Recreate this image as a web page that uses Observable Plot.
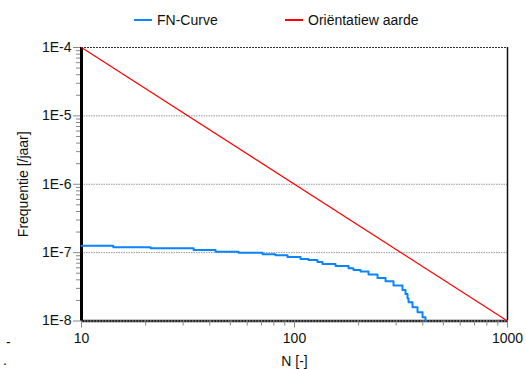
<!DOCTYPE html>
<html>
<head>
<meta charset="utf-8">
<script src="https://cdn.jsdelivr.net/npm/d3@7"></script>
<script src="https://cdn.jsdelivr.net/npm/@observablehq/plot@0.6"></script>
<style>
  html, body { margin: 0; padding: 0; background: #fff; }
  #wrap { position: relative; width: 526px; height: 369px; font-family: "Liberation Sans", Arial, sans-serif; overflow: hidden; }
  #legend { position: relative; height: 30px; width: 526px; font-size: 14px; color: #111; }
  .item { position: absolute; top: 12px; display: flex; align-items: center; height: 16px; }
  .swatch { display: inline-block; width: 18px; height: 2px; margin-right: 5px; }
  #chart svg { display: block; }
  .stray { position: absolute; font-size: 14px; color: #111; }
</style>
</head>
<body>
<div id="wrap">
  <div id="legend">
    <div class="item" style="left:134px"><span class="swatch" style="background:#0a84ff"></span><span>FN-Curve</span></div>
    <div class="item" style="left:285px"><span class="swatch" style="background:#ff0000"></span><span>Oriëntatiew aarde</span></div>
  </div>
  <div id="chart"></div>
  <span class="stray" style="left:6px; top:334px;">-</span>
  <span class="stray" style="left:3px; top:352px;">.</span>
</div>
<script>
// FN-curve (step function): number of fatalities N and frequency [/jaar]
const fnN = [10, 14.1, 21.1, 33.6, 42.6, 54.6, 70.8, 81.4, 92.7, 106.7, 116.3, 128.2, 135.4, 155.8, 179.3, 189.2, 204.1, 222.6, 245.3, 267.5, 291.6, 321.4, 332.0, 339.3, 343.0, 358.1, 378.1, 399.0, 412.1];
const fnF = [1.265e-7, 1.195e-7, 1.155e-7, 1.095e-7, 1.034e-7, 1.0e-7, 9.45e-8, 9.13e-8, 8.6e-8, 8.04e-8, 7.77e-8, 7.31e-8, 6.84e-8, 6.39e-8, 5.9e-8, 5.55e-8, 5.28e-8, 4.77e-8, 4.27e-8, 3.81e-8, 3.30e-8, 2.85e-8, 2.49e-8, 2.13e-8, 1.88e-8, 1.59e-8, 1.34e-8, 1.13e-8, 1.0e-8];

// Orientation value line
const refN = [10, 1000];
const refF = [1e-4, 1e-8];

// Axis ticks and labels
const xTicks = [10, 100, 1000];
const xTickLabels = ["10", "100", "1000"];
const xMinor = [20, 30, 40, 50, 60, 70, 80, 90, 200, 300, 400, 500, 600, 700, 800, 900];
const yTicks = [1e-4, 1e-5, 1e-6, 1e-7, 1e-8];
const yTickLabels = ["1E-4", "1E-5", "1E-6", "1E-7", "1E-8"];
const yGrid = [1e-5, 1e-6, 1e-7];
const yMinorMant = [2, 3, 4, 5, 6, 7, 8, 9];
const yDecades = [1e-8, 1e-7, 1e-6, 1e-5];

const yMinor = yDecades.flatMap(d => yMinorMant.map(m => m * d));
const fnData = fnN.map((n, i) => ({n, f: fnF[i]}));
const refData = refN.map((n, i) => ({n, f: refF[i]}));

const chart = Plot.plot({
  width: 526,
  height: 339,
  marginLeft: 81,
  marginRight: 19,
  marginTop: 17,
  marginBottom: 48.5,
  style: {fontFamily: "'Liberation Sans', Arial, sans-serif", fontSize: "14px", color: "#111", background: "white"},
  x: {type: "log", domain: [10, 1000]},
  y: {type: "log", domain: [1e-8, 1e-4]},
  marks: [
    Plot.ruleY(yGrid, {stroke: "#999", strokeDasharray: "1.5,1"}),
    Plot.ruleY([1e-8], {stroke: "#222", strokeWidth: 2.5}),
    Plot.ruleY([1e-8], {stroke: "#aaa", strokeDasharray: "1.5,1.5"}),
    Plot.ruleY([1e-4], {stroke: "#333", strokeWidth: 1.2, strokeDasharray: "2,1"}),
    Plot.ruleX([1000], {stroke: "#111", strokeWidth: 1.5}),
    Plot.axisY({ticks: yMinor, tickSize: 5, text: null, stroke: "#888", label: null}),
    Plot.axisY({ticks: yTicks, tickSize: 8, tickPadding: 2, stroke: "#888", fill: "#111",
      tickFormat: d => yTickLabels[yTicks.indexOf(d)],
      label: "Frequentie [/jaar]", labelAnchor: "center", labelArrow: "none", labelOffset: 63}),
    Plot.axisX({ticks: xMinor, tickSize: 5, text: null, stroke: "#888", label: null}),
    Plot.axisX({ticks: xTicks, tickSize: 7, tickPadding: 5, stroke: "#888", fill: "#111",
      tickFormat: d => xTickLabels[xTicks.indexOf(d)],
      label: "N [-]", labelAnchor: "center", labelArrow: "none", labelOffset: 45}),
    Plot.ruleX([10], {stroke: "#000", strokeWidth: 3}),
    Plot.line(refData, {x: "n", y: "f", stroke: "#ff0000", strokeWidth: 1.2}),
    Plot.line(fnData, {x: "n", y: "f", curve: "step-after", stroke: "#0a84ff", strokeWidth: 2})
  ]
});
document.getElementById("chart").appendChild(chart);
</script>
</body>
</html>
